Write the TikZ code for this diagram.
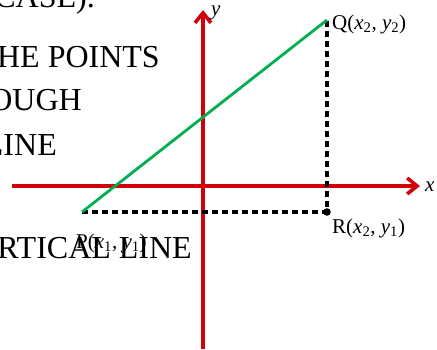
\documentclass[tikz,border=0pt]{standalone}
\usepackage{fontspec}
\setmainfont{Liberation Serif}
\usepackage{tikz}
\usetikzlibrary{arrows.meta,positioning}
\definecolor{axisred}{RGB}{210,0,10}
\definecolor{linegreen}{RGB}{0,176,80}

\begin{document}
\begin{tikzpicture}[x=1pt,y=1pt,>={Straight Barb[length=10pt,width=16pt]},
  every node/.style={font=\fontsize{21}{24}\selectfont,inner sep=0pt},
  pagetext/.style={font=\fontsize{32}{36}\selectfont,anchor=base east},
  axis/.style={axisred,line width=3.6pt},
  guide/.style={black,line width=3.2pt,dash pattern=on 6pt off 4pt}]
  \useasboundingbox (0,0) rectangle (437,-349);
  % cut-off page text
  \node[pagetext] (case) at (95,-7) {CASE).};
  \node[pagetext] (points) at (160,-67) {HE POINTS};
  \node[pagetext] (ough) at (82,-110) {OUGH};
  \node[pagetext] (line) at (57,-155) {LINE};
  \node[pagetext] (vert) at (192,-258) {RTICAL LINE};
  % axes
  \coordinate (xl) at (12,-186);
  \coordinate (xr) at (420,-186);
  \coordinate (yb) at (203,-349);
  \coordinate (yt) at (203,-10);
  \draw[axis,->] (xl) -- (xr);
  \draw[axis,->] (yb) -- (yt);
  \node[anchor=west] (xlab) at (425,-187) {\textit{x}};
  \node[anchor=west] (ylab) at (211,-13) {\textit{y}};
  % points
  \coordinate (P) at (82,-212);
  \coordinate (Q) at (327,-20);
  \coordinate (R) at (327,-212);
  \draw[guide] (P) -- (R) -- (Q);
  \draw[linegreen,line width=2.8pt] (P) -- (Q);
  \fill (R) circle (3.8pt);
  \node[anchor=base west] (Plab) at (76,-248) {P(\textit{x}\textsubscript{1}, \textit{y}\textsubscript{1})};
  \node[anchor=base west] (Qlab) at (332,-29) {Q(\textit{x}\textsubscript{2}, \textit{y}\textsubscript{2})};
  \node[anchor=base west] (Rlab) at (332,-233) {R(\textit{x}\textsubscript{2}, \textit{y}\textsubscript{1})};
\end{tikzpicture}
\end{document}
